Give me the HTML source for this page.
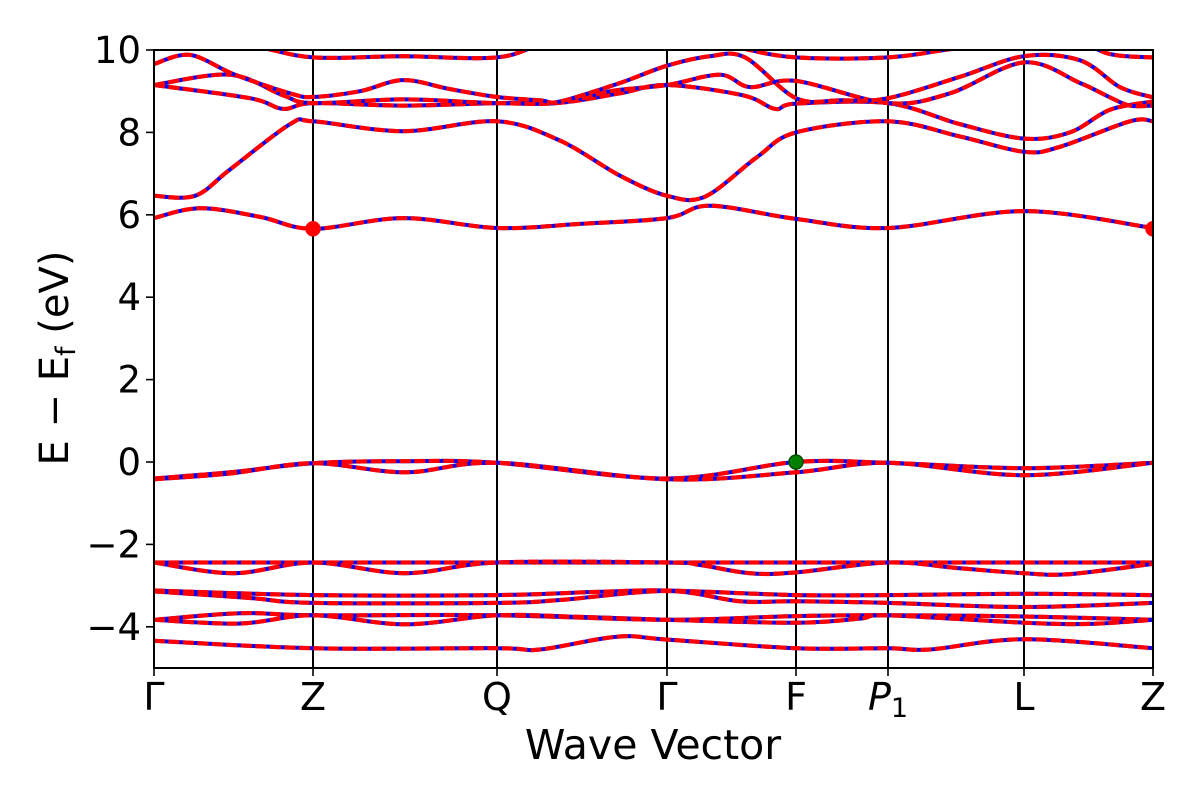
<!DOCTYPE html>
<html><head><meta charset="utf-8">
<style>
html,body{margin:0;padding:0;background:#fff;}
svg{display:block;font-family:"DejaVu Sans","Liberation Sans",sans-serif;}
</style></head>
<body>
<svg id="chart" width="1200" height="800" viewBox="0 0 1200 800" xmlns="http://www.w3.org/2000/svg">
<defs><clipPath id="clip"><rect x="154" y="50" width="999" height="618"/></clipPath></defs>
<g id="bands" clip-path="url(#clip)"></g>
<g id="axes"></g>
</svg>
<script>
// k path distances (wave vector) and energies (eV)
const kTicks = [0, 1.59, 3.43, 5.13, 6.42, 7.34, 8.70, 9.99];
const kTickLabels = ["Γ", "Z", "Q", "Γ", "F", "P1", "L", "Z"];
const yTicks = [-4, -2, 0, 2, 4, 6, 8, 10];
const yTickLabels = ["−4", "−2", "0", "2", "4", "6", "8", "10"];
const bandK = [
 [0,0.46,1.06,1.59,2.49,3.43,4.26,5.13,5.56,6.42,7.34,8.70,9.99],
 [0,0.41,0.76,1.36,1.59,2.49,3.43,4.06,4.66,5.13,5.51,6.03,6.42,7.34,8.06,8.70,9.06,9.76,9.99],
 [0,0.96,1.29,1.59,2.49,3.43,4.06,4.66,5.13,5.89,6.21,6.42,7.34,8.06,8.70,9.16,9.56,9.99],
 [0,0.76,1.29,1.59,2.49,3.43,4.06,4.56,5.13,5.66,5.96,6.42,7.34,7.96,8.70,9.26,9.56,9.76,9.99],
 [0,0.36,0.81,1.36,1.59,2.06,2.49,2.96,3.43,3.86,4.06,4.66,5.13,5.56,5.91,6.42,6.86,7.34,8.06,8.70,9.26,9.66,9.99],
 [0,0.96,1.59,2.49,3.43,4.06,5.46,5.86,6.42,7.34,8.06,9.06,9.56,9.99],
 [0,0.76,1.59,2.51,3.43,5.13,6.42,7.34,8.70,9.99],
 [0,0.76,1.59,2.51,3.43,5.13,6.42,7.34,8.70,9.99],
 [0,2.5,5.13,7.34,9.99],
 [0,0.79,1.59,2.51,3.43,5.13,5.46,5.96,6.42,7.34,8.06,8.70,9.16,9.99],
 [0,1.59,3.43,4.46,5.13,6.42,7.34,8.70,9.99],
 [0,0.96,1.59,3.43,4.06,5.13,5.86,6.42,7.34,8.70,9.99],
 [0,0.86,1.59,3.43,5.13,6.42,7.34,8.70,9.99],
 [0,0.86,1.59,2.51,3.43,4.26,5.13,6.42,7.06,7.34,8.70,9.36,9.99],
 [0,1.59,3.43,3.86,4.63,5.13,6.42,7.34,7.76,8.70,9.99]
];
const bandE = [
 [5.92,6.16,5.95,5.66,5.92,5.68,5.78,5.92,6.22,5.90,5.68,6.09,5.68],
 [6.46,6.46,7.10,8.20,8.27,8.03,8.27,7.80,6.95,6.46,6.44,7.40,8.00,8.27,7.90,7.53,7.65,8.27,8.27],
 [9.15,8.83,8.57,8.71,8.65,8.71,8.72,8.95,9.15,8.90,8.57,8.70,8.71,8.20,7.85,8.00,8.55,8.75],
 [9.15,9.40,8.90,8.71,8.80,8.71,8.72,9.00,9.15,9.40,9.10,9.25,8.71,8.95,9.70,9.20,8.85,8.65,8.65],
 [9.66,9.88,9.40,8.95,8.86,9.00,9.27,9.05,8.86,8.78,8.75,9.20,9.62,9.85,9.82,8.83,8.78,8.83,9.35,9.85,9.75,9.10,8.85],
 [10.3,10.1,9.82,9.85,9.82,10.2,10.3,10.05,9.82,9.82,10.05,10.3,9.90,9.82],
 [-0.40,-0.25,-0.03,0.02,-0.02,-0.40,0.00,-0.02,-0.15,-0.02],
 [-0.42,-0.28,-0.03,-0.25,-0.02,-0.42,-0.25,-0.02,-0.32,-0.02],
 [-2.44,-2.44,-2.44,-2.44,-2.44],
 [-2.44,-2.70,-2.44,-2.70,-2.44,-2.44,-2.50,-2.70,-2.68,-2.44,-2.58,-2.70,-2.72,-2.47],
 [-3.12,-3.23,-3.23,-3.15,-3.12,-3.23,-3.23,-3.20,-3.23],
 [-3.14,-3.30,-3.42,-3.42,-3.35,-3.13,-3.38,-3.38,-3.42,-3.52,-3.42],
 [-3.83,-3.67,-3.72,-3.72,-3.83,-3.74,-3.72,-3.75,-3.83],
 [-3.83,-3.92,-3.72,-3.94,-3.72,-3.76,-3.83,-3.90,-3.80,-3.72,-3.90,-3.93,-3.83],
 [-4.34,-4.52,-4.52,-4.55,-4.24,-4.31,-4.52,-4.52,-4.55,-4.30,-4.52]
];
const markerK = [1.59, 9.99, 6.42];
const markerE = [5.66, 5.66, 0.0];
const markerColor = ["red", "red", "green"];

const X0 = 154, X1 = 1153, Y0 = 668, Y1 = 50;
const kMax = 9.99, eMin = -5, eMax = 10;
const xs = k => X0 + (k / kMax) * (X1 - X0);
const ys = e => Y0 - (e - eMin) / (eMax - eMin) * (Y0 - Y1);
const NS = "http://www.w3.org/2000/svg";
function mk(tag, attrs, parent) {
  const el = document.createElementNS(NS, tag);
  for (const a in attrs) el.setAttribute(a, attrs[a]);
  parent.appendChild(el); return el;
}
function pathFor(ks, es) {
  const p = ks.map((k, i) => [xs(k), ys(es[i])]);
  let d = "M" + p[0][0].toFixed(1) + "," + p[0][1].toFixed(1);
  for (let i = 0; i < p.length - 1; i++) {
    const p0 = p[i - 1] || p[i], p1 = p[i], p2 = p[i + 1], p3 = p[i + 2] || p2;
    const c1x = p1[0] + (p2[0] - p0[0]) / 6, c1y = p1[1] + (p2[1] - p0[1]) / 6;
    const c2x = p2[0] - (p3[0] - p1[0]) / 6, c2y = p2[1] - (p3[1] - p1[1]) / 6;
    d += " C" + c1x.toFixed(1) + "," + c1y.toFixed(1) + " " + c2x.toFixed(1) + "," + c2y.toFixed(1) + " " + p2[0].toFixed(1) + "," + p2[1].toFixed(1);
  }
  return d;
}
const gB = document.getElementById("bands");
const gA = document.getElementById("axes");
kTicks.forEach((k, i) => {
  if (i === 0 || i === kTicks.length - 1) return;
  const l = mk("line", {x1: xs(k), x2: xs(k), y1: Y1, y2: Y0, stroke: "#000", "stroke-width": 2}, gB);
  
  
});
bandK.forEach((ks, i) => {
  const d = pathFor(ks, bandE[i]);
  const b = mk("path", {d: d, fill: "none", stroke: "#0000ff", "stroke-width": 4}, gB);
  
  
  const r = mk("path", {d: d, fill: "none", stroke: "#ff0000", "stroke-width": 4.2, "stroke-dasharray": "11 3.5"}, gB);
  
  
});
markerK.forEach((k, i) => {
  const c = mk("circle", {cx: xs(k), cy: ys(markerE[i]), r: 7, fill: markerColor[i], stroke: markerColor[i] === "green" ? "#004d00" : "red", "stroke-width": 1.5}, gB);
  
  
});
const fr = mk("rect", {x: X0, y: Y1, width: X1 - X0, height: Y0 - Y1, fill: "none", stroke: "#000", "stroke-width": 2}, gA);


yTicks.forEach((e, i) => {
  const t = mk("line", {x1: X0 - 8, x2: X0, y1: ys(e), y2: ys(e), stroke: "#000", "stroke-width": 1.6}, gA);
  
  
  const tx = mk("text", {x: X0 - 13, y: ys(e) + 13, "text-anchor": "end", "font-size": 37, fill: "#000"}, gA);
  tx.textContent = yTickLabels[i];
  
  
});
kTicks.forEach((k, i) => {
  const t = mk("line", {x1: xs(k), x2: xs(k), y1: Y0, y2: Y0 + 8, stroke: "#000", "stroke-width": 1.6}, gA);
  
  
  const tx = mk("text", {x: xs(k), y: 710, "text-anchor": "middle", "font-size": 38, fill: "#000"}, gA);
  
  
  if (kTickLabels[i] === "P1") {
    tx.innerHTML = '<tspan font-style="italic">P</tspan><tspan font-size="27" dy="7">1</tspan>';
  } else tx.textContent = kTickLabels[i];
});
const xl = mk("text", {x: 653, y: 759, "text-anchor": "middle", "font-size": 41, fill: "#000"}, gA);
xl.textContent = "Wave Vector";


const yl = mk("text", {x: 0, y: 0, "text-anchor": "middle", "font-size": 40, fill: "#000", transform: "translate(68,358) rotate(-90)"}, gA);
yl.innerHTML = 'E − E<tspan font-size="27" dy="7">f</tspan><tspan dy="-7"> (eV)</tspan>';


</script>
</body></html>
